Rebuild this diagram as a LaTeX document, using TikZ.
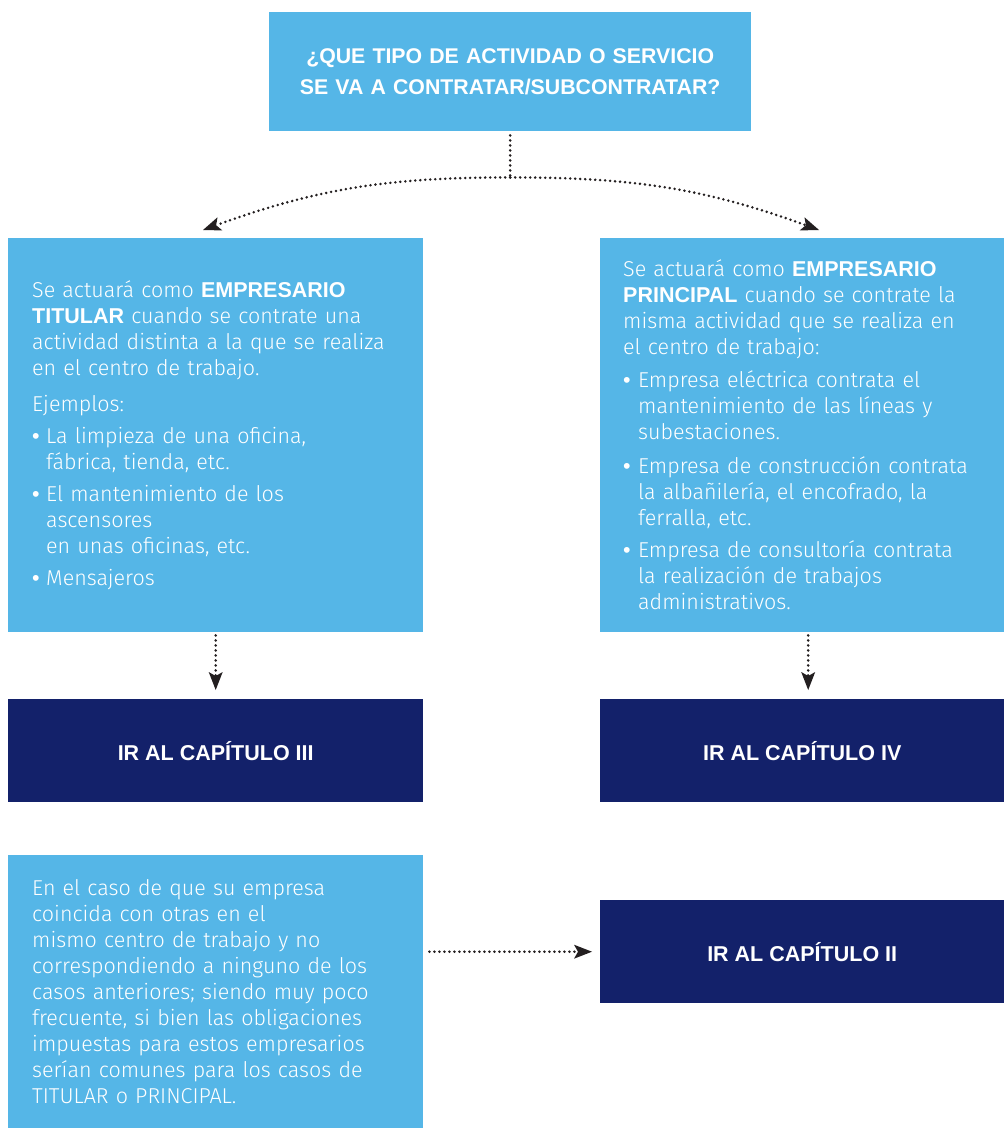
\documentclass[tikz,border=0pt]{standalone}
\usepackage{fontspec}
\setmainfont{Fira Sans Light}[BoldFont={Liberation Sans Bold}]
\newfontfamily\bulfont{Liberation Sans}
\usetikzlibrary{arrows.meta}
\definecolor{lblue}{HTML}{55B6E7}
\definecolor{navy}{HTML}{13216A}
\definecolor{ink}{HTML}{231F20}
\newcommand{\bul}[1]{\makebox[#1][l]{{\bulfont •}}}
\newcommand{\ind}[1]{\hspace*{#1}}
\begin{document}
\begin{tikzpicture}[x=1pt,y=-1pt,
  lbox/.style={fill=lblue, text=white, inner sep=0pt, anchor=north west,
    font=\fontsize{21.5}{26}\selectfont, align=left},
  dbox/.style={fill=navy, text=white, inner sep=0pt, anchor=north west,
    font=\fontsize{21.5}{26}\selectfont\bfseries, align=center},
  conn/.style={ink, line width=2.8pt, dash pattern=on 0pt off 5pt, line cap=round,
    -{Stealth[length=18pt,width=14pt,inset=4pt,line width=0pt]}},
  dotline/.style={ink, line width=2.8pt, dash pattern=on 0pt off 5pt, line cap=round},
]
\useasboundingbox (0,0) rectangle (1004,1128);

\node[lbox, align=center, font=\fontsize{21.3}{31}\selectfont\bfseries,
  minimum width=482pt, minimum height=119pt, text width=470pt] (T) at (269,12)
  {¿QUE TIPO DE ACTIVIDAD O SERVICIO\\SE VA A CONTRATAR/SUBCONTRATAR?};

\node[lbox, minimum width=415pt, minimum height=394pt, text width=367pt] (L) at (8,238)
  {Se actuará como \textbf{EMPRESARIO}\\
   \textbf{TITULAR} cuando se contrate una\\
   actividad distinta a la que se realiza\\
   en el centro de trabajo.\\[10pt]
   Ejemplos:\\[6pt]
   \bul{14pt}La limpieza de una oficina,\\
   \ind{14pt}fábrica, tienda, etc.\\[6pt]
   \bul{14pt}El mantenimiento de los\\
   \ind{14pt}ascensores\\
   \ind{14pt}en unas oficinas, etc.\\[6pt]
   \bul{14pt}Mensajeros};

\node[lbox, minimum width=404pt, minimum height=394pt, text width=358pt] (R) at (600,238)
  {Se actuará como \textbf{EMPRESARIO}\\
   \textbf{PRINCIPAL} cuando se contrate la\\
   misma actividad que se realiza en\\
   el centro de trabajo:\\[7pt]
   \bul{15pt}Empresa eléctrica contrata el\\
   \ind{15pt}mantenimiento de las líneas y\\
   \ind{15pt}subestaciones.\\[8pt]
   \bul{15pt}Empresa de construcción contrata\\
   \ind{15pt}la albañilería, el encofrado, la\\
   \ind{15pt}ferralla, etc.\\[6pt]
   \bul{15pt}Empresa de consultoría contrata\\
   \ind{15pt}la realización de trabajos\\
   \ind{15pt}administrativos.};

\node[dbox, minimum width=415pt, minimum height=103pt] (III) at (8,699) {IR AL CAPÍTULO III};
\node[dbox, minimum width=404pt, minimum height=103pt] (IV) at (600,699) {IR AL CAPÍTULO IV};

\node[lbox, minimum width=415pt, minimum height=273pt, text width=367pt] (B) at (8,855)
  {En el caso de que su empresa\\
   coincida con otras en el\\
   mismo centro de trabajo y no\\
   correspondiendo a ninguno de los\\
   casos anteriores; siendo muy poco\\
   frecuente, si bien las obligaciones\\
   impuestas para estos empresarios\\
   serían comunes para los casos de\\
   TITULAR o PRINCIPAL.};

\node[dbox, minimum width=404pt, minimum height=103pt] (II) at (600,900) {IR AL CAPÍTULO II};

% connectors
\coordinate (j) at ([yshift=-46pt]T.south);
\coordinate (lt) at (203,230);
\coordinate (rt) at (819,230);
\draw[dotline] ([yshift=-4pt]T.south) -- (j);
\draw[conn] (j) to[out=180,in=20] (lt);
\draw[conn] (j) to[out=0,in=160] (rt);
\draw[conn, shorten <=3pt, shorten >=9pt] (L.south) -- (III.north);
\draw[conn, shorten <=3pt, shorten >=9pt] ([xshift=6pt]R.south) -- ([xshift=6pt]IV.north);
\draw[conn, shorten <=6pt, shorten >=8pt] (B.east |- II.west) -- (II.west);
\end{tikzpicture}
\end{document}
